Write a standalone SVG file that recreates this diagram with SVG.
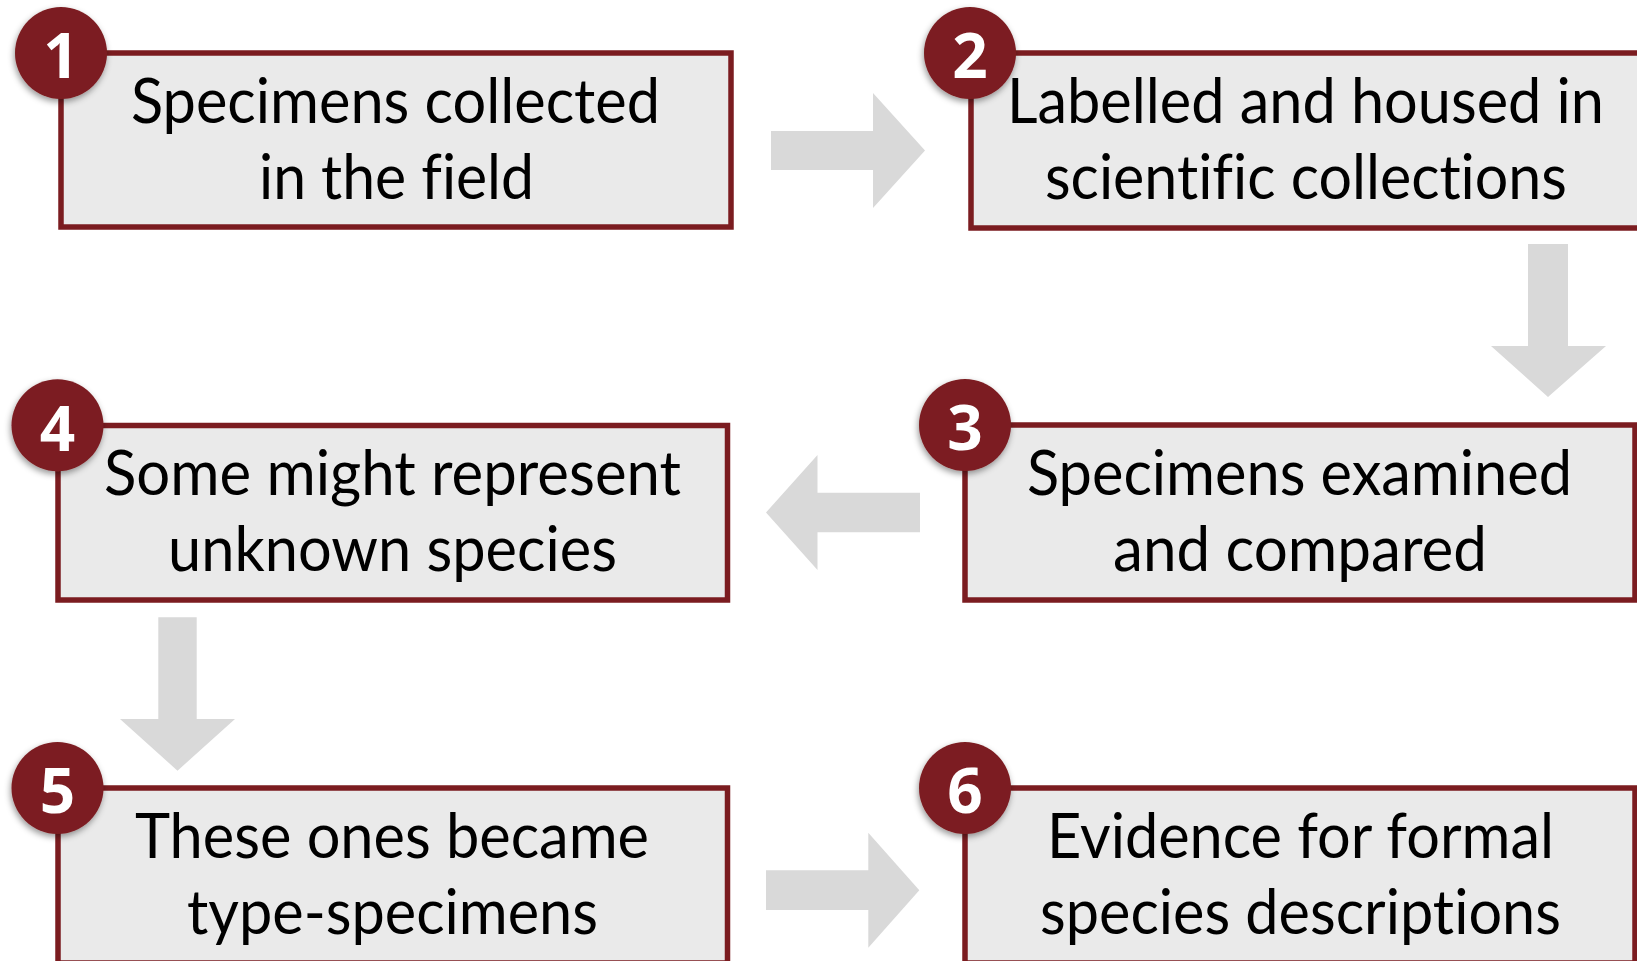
<svg xmlns="http://www.w3.org/2000/svg" width="1637" height="961" viewBox="0 0 1637 961">
  <defs>
    <style>
      .box { fill: #EAEAEA; stroke: #7B1C20; stroke-width: 5.5; }
      .badge { fill: #7B1C20; filter: url(#shadow); }
      .num { font-family: "Open Sans", "Liberation Sans", sans-serif; font-weight: bold; font-size: 62px; fill: #FFFFFF; text-anchor: middle; }
      .lbl { font-family: Lato, "Open Sans", "Liberation Sans", sans-serif; font-size: 62px; fill: #000000; font-variant-ligatures: none; font-feature-settings: "liga" 0; }
      .arrow { fill: #D9D9D9; }
    </style>
    <filter id="shadow" x="-30%" y="-30%" width="160%" height="160%">
      <feDropShadow dx="-1" dy="3" stdDeviation="3" flood-color="#000000" flood-opacity="0.4"/>
    </filter>
  </defs>
  <rect width="1637" height="961" fill="#FFFFFF"/>

  <g id="connectors">
    <polygon class="arrow" points="771,131 873,131 873,93 925,150.5 873,208 873,170 771,170"/>
    <polygon class="arrow" points="1528,244 1568,244 1568,346 1606,346 1548,397 1491,346 1528,346"/>
    <polygon class="arrow" points="920,492.7 817.5,492.7 817.5,455 766,512.5 817.5,570 817.5,532.3 920,532.3"/>
    <polygon class="arrow" points="158.3,617.3 196.7,617.3 196.7,719 235,719 177.5,770.7 120,719 158.3,719"/>
    <polygon class="arrow" points="766,870.3 868.3,870.3 868.3,832.7 919.3,890.2 868.3,947.7 868.3,910 766,910"/>
  </g>

  <g id="node1">
    <rect class="box" x="61" y="53" width="670" height="174"/>
    <circle class="badge" cx="61" cy="53" r="46"/>
    <text class="num" x="61" y="78">1</text>
    <text class="lbl" x="131" y="123" textLength="529" lengthAdjust="spacingAndGlyphs">Specimens collected</text>
    <text class="lbl" x="259" y="199" textLength="275" lengthAdjust="spacingAndGlyphs">in the field</text>
  </g>

  <g id="node2">
    <rect class="box" x="971" y="53" width="670" height="175"/>
    <circle class="badge" cx="970" cy="53" r="46"/>
    <text class="num" x="970" y="78">2</text>
    <text class="lbl" x="1007" y="123" textLength="597" lengthAdjust="spacingAndGlyphs">Labelled and housed in</text>
    <text class="lbl" x="1045" y="199" textLength="522" lengthAdjust="spacingAndGlyphs">scientific collections</text>
  </g>

  <g id="node3">
    <rect class="box" x="965" y="425" width="670" height="175"/>
    <circle class="badge" cx="965" cy="425" r="46"/>
    <text class="num" x="965" y="450">3</text>
    <text class="lbl" x="1027" y="495" textLength="545" lengthAdjust="spacingAndGlyphs">Specimens examined</text>
    <text class="lbl" x="1113" y="571" textLength="374" lengthAdjust="spacingAndGlyphs">and compared</text>
  </g>

  <g id="node4">
    <rect class="box" x="58" y="425.5" width="669.5" height="174.5"/>
    <circle class="badge" cx="57.5" cy="425.3" r="46"/>
    <text class="num" x="57.5" y="450.5">4</text>
    <text class="lbl" x="104" y="495" textLength="577" lengthAdjust="spacingAndGlyphs">Some might represent</text>
    <text class="lbl" x="168" y="571" textLength="449" lengthAdjust="spacingAndGlyphs">unknown species</text>
  </g>

  <g id="node5">
    <rect class="box" x="58" y="788" width="669.5" height="175"/>
    <circle class="badge" cx="57.5" cy="788" r="46"/>
    <text class="num" x="57.5" y="813">5</text>
    <text class="lbl" x="135" y="858" textLength="514" lengthAdjust="spacingAndGlyphs">These ones became</text>
    <text class="lbl" x="187" y="934" textLength="411" lengthAdjust="spacingAndGlyphs">type-specimens</text>
  </g>

  <g id="node6">
    <rect class="box" x="965" y="788" width="670" height="175"/>
    <circle class="badge" cx="965" cy="788" r="46"/>
    <text class="num" x="965" y="813">6</text>
    <text class="lbl" x="1047" y="858" textLength="507" lengthAdjust="spacingAndGlyphs">Evidence for formal</text>
    <text class="lbl" x="1040" y="934" textLength="521" lengthAdjust="spacingAndGlyphs">species descriptions</text>
  </g>
</svg>
